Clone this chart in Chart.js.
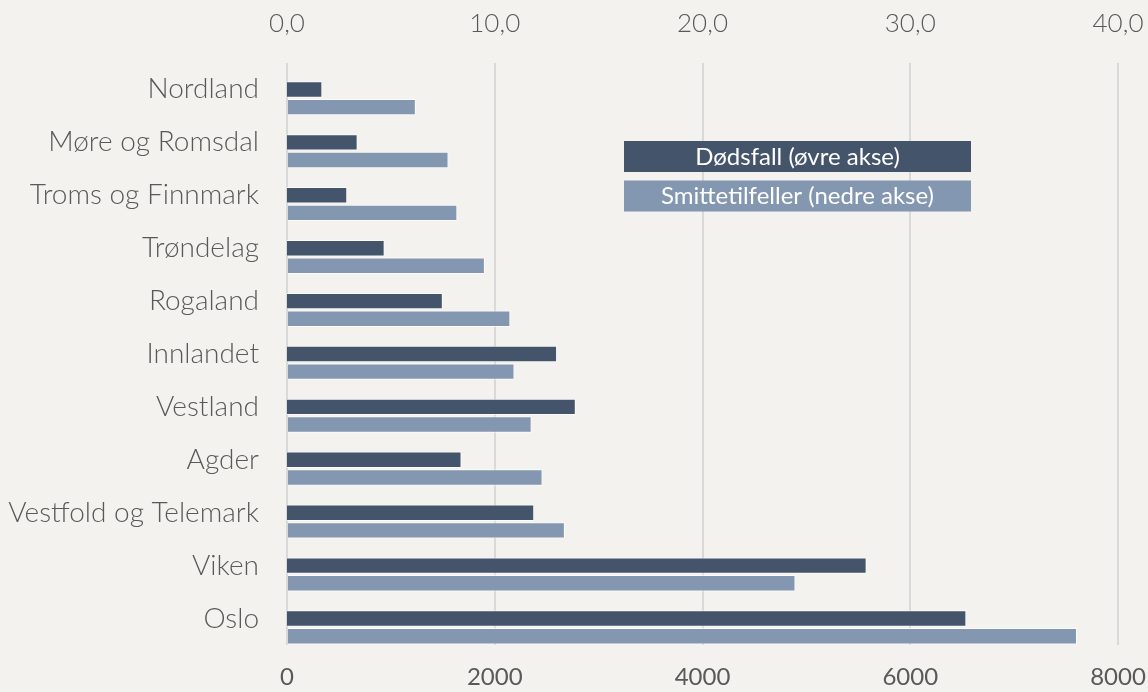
<!DOCTYPE html>
<html>
<head>
<meta charset="utf-8">
<script src="https://cdn.jsdelivr.net/npm/chart.js@4"></script>
<style>
  html, body { margin: 0; padding: 0; background: #f4f2ee; }
  #wrap { width: 1148px; height: 692px; position: relative; }
</style>
</head>
<body>
<div id="wrap"><canvas id="chart" width="1148" height="692"></canvas></div>
<script>
const regions = ['Nordland', 'Møre og Romsdal', 'Troms og Finnmark', 'Trøndelag', 'Rogaland',
    'Innlandet', 'Vestland', 'Agder', 'Vestfold og Telemark', 'Viken', 'Oslo'];
const deaths = [1.7, 3.4, 2.9, 4.7, 7.5, 13.0, 13.9, 8.4, 11.9, 27.9, 32.7];
const cases = [1240, 1555, 1640, 1905, 2150, 2190, 2355, 2460, 2675, 4895, 7605];
const deathTicks = [0, 10, 20, 30, 40];
const caseTicks = [0, 2000, 4000, 6000, 8000];

const darkBlue = '#44546a';
const lightBlue = '#8497b0';
const textColor = '#595959';
const font = 'Lato, "Open Sans", sans-serif';

// legend drawn as two filled boxes inside the plot, like the original
const boxLegend = {
    id: 'boxLegend',
    afterDraw(chart) {
        const ctx = chart.ctx;
        const items = chart.data.datasets.filter(ds => ds.label);
        ctx.save();
        ctx.font = '24px ' + font;
        ctx.textAlign = 'center';
        ctx.textBaseline = 'middle';
        items.forEach((ds, i) => {
            const y = 141 + i * 39.5;
            ctx.fillStyle = ds.backgroundColor;
            ctx.fillRect(624, y, 347, 31);
            ctx.fillStyle = '#ffffff';
            ctx.fillText(ds.label, 624 + 347 / 2, y + 16);
        });
        ctx.restore();
    }
};

// keep the plot area at the same right edge as the original
const fixPad = (s, h) => { s.height = h; s.paddingLeft = 0; s.paddingRight = 30; };

new Chart(document.getElementById('chart').getContext('2d'), {
    type: 'bar',
    data: {
        labels: regions,
        datasets: [
            // empty slot: in the original the pair of bars sits below the label
            { label: '', data: regions.map(() => null), xAxisID: 'xBottom', backgroundColor: 'transparent' },
            { label: 'Dødsfall (øvre akse)', data: deaths, xAxisID: 'xTop',
              backgroundColor: darkBlue, borderColor: 'rgba(255,255,255,0.7)', borderWidth: 1 },
            { label: 'Smittetilfeller (nedre akse)', data: cases, xAxisID: 'xBottom',
              backgroundColor: lightBlue, borderColor: 'rgba(255,255,255,0.7)', borderWidth: 1 }
        ]
    },
    options: {
        indexAxis: 'y',
        responsive: false,
        animation: false,
        layout: { padding: 0 },
        categoryPercentage: 1.0,
        barPercentage: 0.93,
        plugins: { legend: { display: false }, tooltip: { enabled: false } },
        scales: {
            y: {
                grid: { display: false },
                border: { display: false },
                ticks: { color: textColor, padding: 20, font: { family: font, size: 28, weight: 300 } },
                afterFit: (s) => { s.width = 287; }
            },
            xTop: {
                position: 'top',
                min: 0, max: 40,
                afterBuildTicks: (s) => { s.ticks = deathTicks.map(v => ({ value: v })); },
                grid: { display: false },
                border: { display: false },
                ticks: {
                    color: textColor, padding: 16, maxRotation: 0,
                    font: { family: font, size: 26, weight: 300 },
                    callback: (v) => Number(v).toFixed(1).replace('.', ',')
                },
                afterFit: (s) => fixPad(s, 63)
            },
            xBottom: {
                position: 'bottom',
                min: 0, max: 8000,
                afterBuildTicks: (s) => { s.ticks = caseTicks.map(v => ({ value: v })); },
                grid: { color: '#d9d9d9', lineWidth: 2, drawTicks: false },
                border: { display: false },
                ticks: {
                    color: textColor, padding: 18, maxRotation: 0,
                    font: { family: '"Liberation Sans Narrow", Lato, sans-serif', size: 24 },
                    callback: (v) => String(v)
                },
                afterFit: (s) => fixPad(s, 47)
            }
        }
    },
    plugins: [boxLegend]
});
</script>
</body>
</html>
